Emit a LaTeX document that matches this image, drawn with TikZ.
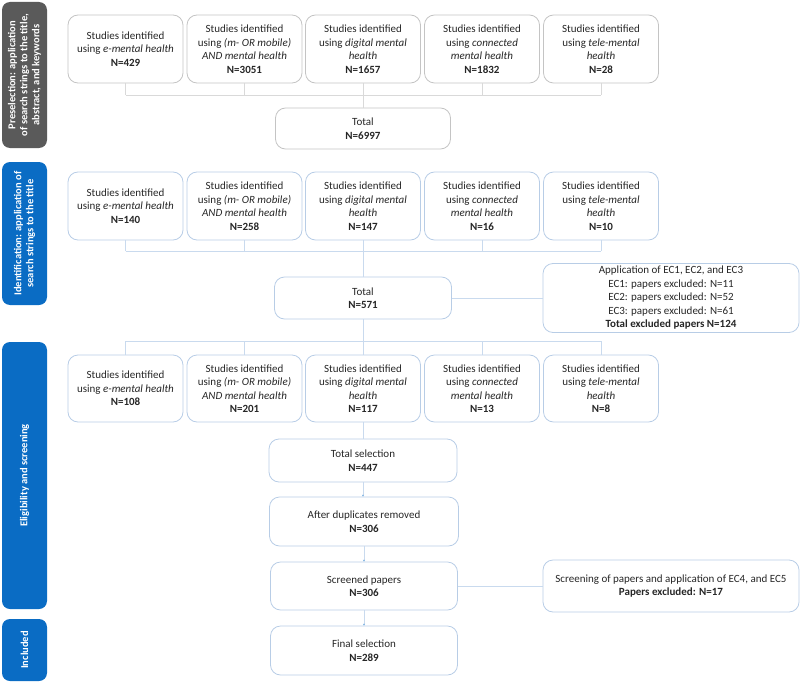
\documentclass[tikz,border=0pt]{standalone}
\usepackage{fontspec}
\setmainfont{Carlito}
\usetikzlibrary{arrows.meta}
\definecolor{txt}{HTML}{262626}
\definecolor{grayline}{HTML}{D9D9D9}
\definecolor{grayborder}{HTML}{C4C4C4}
\definecolor{blueborder}{HTML}{B8CDE6}
\definecolor{blueline}{HTML}{C9DAEE}
\definecolor{sidegray}{HTML}{5A5A5A}
\definecolor{sideblue}{HTML}{0A6CC4}
\tikzset{
  box/.style={draw=blueborder, line width=0.8pt, rounded corners=10pt, align=center, text=txt,
    font=\fontsize{11}{13.5}\selectfont, inner sep=2pt},
  gbox/.style={box, draw=grayborder},
  sbox/.style={box, minimum width=115pt, minimum height=68pt},
  gsbox/.style={gbox, minimum width=115pt, minimum height=68pt},
  side/.style={rounded corners=8pt, rotate=90, text=white, align=center,
    font=\fontsize{10.5}{12}\selectfont\bfseries, minimum height=45pt, inner sep=1pt},
  gline/.style={draw=grayline, line width=0.8pt},
  bline/.style={draw=blueline, line width=0.8pt},
  barrow/.style={bline, -{Stealth[length=2pt,width=2pt,color=sideblue!60]}},
}
\begin{document}
\begin{tikzpicture}[x=1pt,y=-1pt]
\useasboundingbox (0,0) rectangle (800,682);
% side bars
\node[side, fill=sidegray, minimum width=146pt] (sPre) at (24.5,75) {Preselection: application\\of search strings to the title,\\abstract, and keywords};
\node[side, fill=sideblue, minimum width=143pt] (sId) at (24.5,233.5) {Identification: application of\\search strings to the title};
\node[side, fill=sideblue, minimum width=267pt] (sEl) at (24.5,475.5) {Eligibility and screening};
\node[side, fill=sideblue, minimum width=62pt] (sIn) at (24.5,650) {Included};
% row 1
\node[gsbox] (a1) at (125.5,49) {Studies identified\\using \textit{e-mental health}\\\textbf{N=429}};
\node[gsbox] (a2) at (244.5,49) {Studies identified\\using \textit{(m- OR mobile)}\\\textit{AND mental health}\\\textbf{N=3051}};
\node[gsbox] (a3) at (363,49) {Studies identified\\using \textit{digital mental}\\\textit{health}\\\textbf{N=1657}};
\node[gsbox] (a4) at (482,49) {Studies identified\\using \textit{connected}\\\textit{mental health}\\\textbf{N=1832}};
\node[gsbox] (a5) at (601,49) {Studies identified\\using \textit{tele-mental}\\\textit{health}\\\textbf{N=28}};
\node[gbox, minimum width=175pt, minimum height=41pt] (t1) at (363,128.5) {Total\\\textbf{N=6997}};
\coordinate (bus1) at (0,95);
\foreach \n in {a1,a2,a3,a4,a5} {\draw[gline] (\n.south) -- (\n.south |- bus1);}
\draw[gline] (a1.south |- bus1) -- (a5.south |- bus1);
\draw[gline] (a3.south |- bus1) -- (t1.north);
% row 2
\node[sbox] (b1) at (125.5,206) {Studies identified\\using \textit{e-mental health}\\\textbf{N=140}};
\node[sbox] (b2) at (244.5,206) {Studies identified\\using \textit{(m- OR mobile)}\\\textit{AND mental health}\\\textbf{N=258}};
\node[sbox] (b3) at (363,206) {Studies identified\\using \textit{digital mental}\\\textit{health}\\\textbf{N=147}};
\node[sbox] (b4) at (482,206) {Studies identified\\using \textit{connected}\\\textit{mental health}\\\textbf{N=16}};
\node[sbox] (b5) at (601,206) {Studies identified\\using \textit{tele-mental}\\\textit{health}\\\textbf{N=10}};
\node[box, minimum width=177pt, minimum height=42pt] (t2) at (363,298) {Total\\\textbf{N=571}};
\node[box, minimum width=256pt, minimum height=69pt] (ec1) at (671,298) {Application of EC1, EC2, and EC3\\EC1: papers excluded: N=11\\EC2: papers excluded: N=52\\EC3: papers excluded: N=61\\\textbf{Total excluded papers N=124}};
\coordinate (bus2) at (0,251);
\foreach \n in {b1,b2,b3,b4,b5} {\draw[bline] (\n.south) -- (\n.south |- bus2);}
\draw[bline] (b1.south |- bus2) -- (b5.south |- bus2);
\draw[bline] (b3.south |- bus2) -- (t2.north);
\draw[bline] (t2.east) -- (ec1.west);
% row 3
\node[sbox, minimum height=67pt] (c1) at (125.5,388.5) {Studies identified\\using \textit{e-mental health}\\\textbf{N=108}};
\node[sbox, minimum height=67pt] (c2) at (244.5,388.5) {Studies identified\\using \textit{(m- OR mobile)}\\\textit{AND mental health}\\\textbf{N=201}};
\node[sbox, minimum height=67pt] (c3) at (363,388.5) {Studies identified\\using \textit{digital mental}\\\textit{health}\\\textbf{N=117}};
\node[sbox, minimum height=67pt] (c4) at (482,388.5) {Studies identified\\using \textit{connected}\\\textit{mental health}\\\textbf{N=13}};
\node[sbox, minimum height=67pt] (c5) at (601,388.5) {Studies identified\\using \textit{tele-mental}\\\textit{health}\\\textbf{N=8}};
\coordinate (bus3) at (0,341);
\draw[bline] (t2.south) -- (t2.south |- bus3);
\draw[bline] (c1.north |- bus3) -- (c5.north |- bus3);
\foreach \n in {c1,c2,c3,c4,c5} {\draw[bline] (\n.north |- bus3) -- (\n.north);}
% lower chain
\node[box, minimum width=188pt, minimum height=43pt] (ts) at (363,460.5) {Total selection\\\textbf{N=447}};
\node[box, minimum width=189pt, minimum height=49pt] (ad) at (364,521.5) {After duplicates removed\\\textbf{N=306}};
\node[box, minimum width=187pt, minimum height=48pt] (sp) at (364,586) {Screened papers\\\textbf{N=306}};
\node[box, minimum width=187pt, minimum height=49pt] (fs) at (364,650.5) {Final selection\\\textbf{N=289}};
\node[box, minimum width=256pt, minimum height=52pt] (ec2) at (671,586) {Screening of papers and application of EC4, and EC5\\\textbf{Papers excluded: N=17}};
\draw[bline] (c3.south) -- (ts.north);
\draw[barrow] (ts.south) -- (ts.south |- ad.north);
\draw[barrow] (ad.south) -- (ad.south |- sp.north);
\draw[barrow] (sp.south) -- (sp.south |- fs.north);
\draw[bline] (sp.east) -- (ec2.west);
\end{tikzpicture}
\end{document}
